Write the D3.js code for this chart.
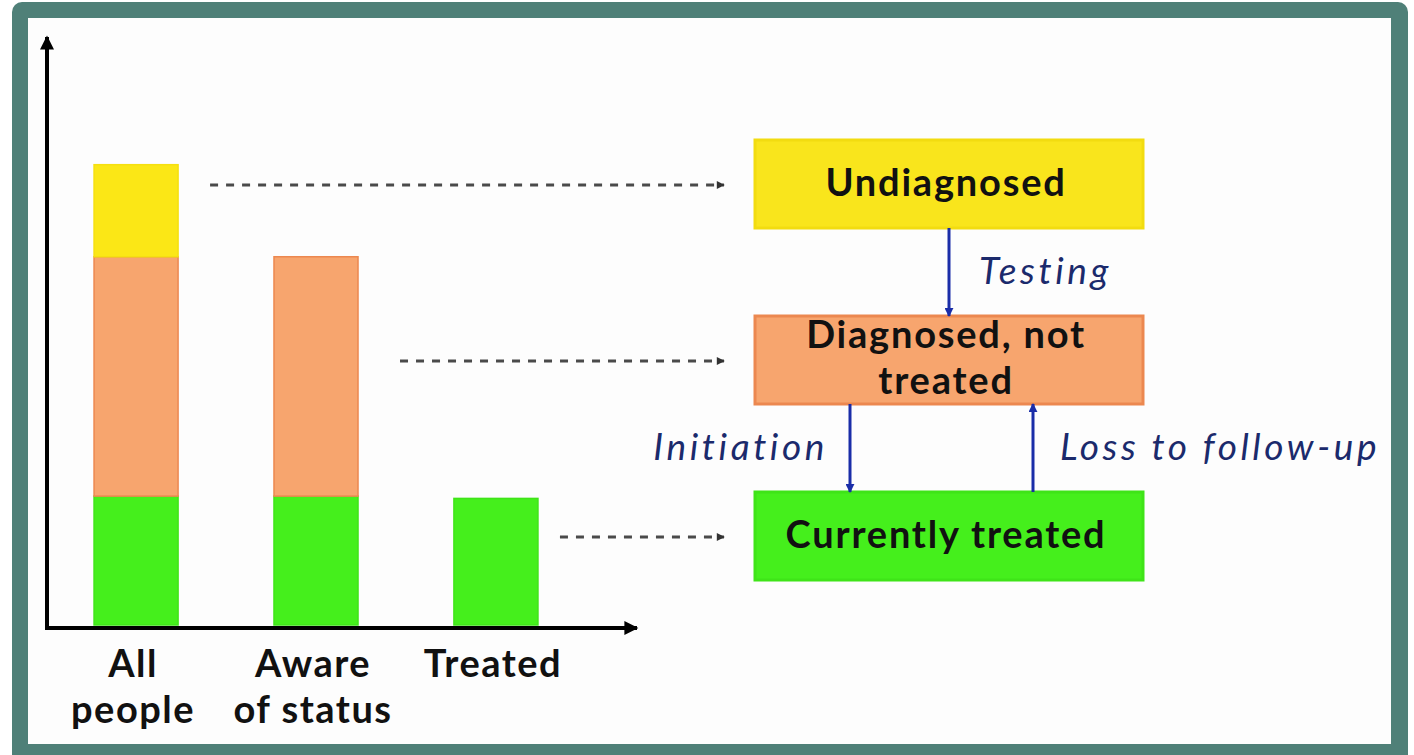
<!DOCTYPE html>
<html lang="en">
<head>
<meta charset="utf-8">
<title>Care cascade</title>
<style>
  body { margin: 0; background: #fff; }
  svg { display: block; }
  text { font-family: Lato, "Open Sans", sans-serif; }
</style>
<script src="https://cdnjs.cloudflare.com/ajax/libs/d3/7.8.5/d3.min.js"></script>
</head>
<body>
<div id="chart"></div>
<script>
// bar data (percent of all people)
var categories = ["All people", "Aware of status", "Treated"];
var catLines = [["All", "people"], ["Aware", "of status"], ["Treated"]];
var treatedVals = [28, 28, 27.5];
var diagnosedVals = [52, 52, 0];
var undiagnosedVals = [20, 0, 0];

// flow chart stages
var stages = ["Undiagnosed", "Diagnosed, not treated", "Currently treated"];
var stageLines = [["Undiagnosed"], ["Diagnosed, not", "treated"], ["Currently treated"]];
var stageColors = ["#f9e51c", "#f7a56e", "#45ef1c"];
var stageStroke = ["#f2dc10", "#ec8850", "#3fe418"];
var stageSource = [0, 1, 2]; // which bar the dashed arrow leaves from

var W = 1414, H = 755;

var svg = d3.select("#chart").append("svg")
    .attr("width", W)
    .attr("height", H);

// frame
svg.append("rect").attr("x", 12).attr("y", 2).attr("width", 1396).attr("height", H + 10)
    .attr("rx", 10).attr("fill", "#4f8078");
svg.append("rect").attr("x", 28).attr("y", 18).attr("width", 1363).attr("height", 726)
    .attr("fill", "#fdfdfd");

var defs = svg.append("defs");
function marker(id, color, w, h) {
    defs.append("marker").attr("id", id)
        .attr("viewBox", "0 0 10 10").attr("refX", 9).attr("refY", 5)
        .attr("markerWidth", w).attr("markerHeight", h)
        .attr("markerUnits", "userSpaceOnUse")
        .attr("orient", "auto")
        .append("path").attr("d", "M0,0 L10,5 L0,10 Z").attr("fill", color);
}
marker("blackArrow", "#000", 16, 14);
marker("grayArrow", "#333", 9, 8);
marker("blueArrow", "#1a2da8", 9, 9);

// scales
var x = d3.scaleBand().domain(categories).range([46, 586])
    .paddingInner(0.533).paddingOuter(0.267);
var y = d3.scaleLinear().domain([0, 126]).range([625, 45]);

var stacked = categories.map(function (c, i) {
    return [
        {cat: c, y0: 0, y1: treatedVals[i], color: stageColors[2], stroke: stageStroke[2]},
        {cat: c, y0: treatedVals[i], y1: treatedVals[i] + diagnosedVals[i], color: stageColors[1], stroke: stageStroke[1]},
        {cat: c, y0: treatedVals[i] + diagnosedVals[i], y1: treatedVals[i] + diagnosedVals[i] + undiagnosedVals[i], color: "#fbe716", stroke: "#f5e010"}
    ].filter(function (d) { return d.y1 > d.y0; });
});

var bars = svg.append("g");
bars.selectAll("g").data(stacked).enter().append("g")
    .selectAll("rect").data(function (d) { return d; }).enter().append("rect")
    .attr("x", function (d) { return x(d.cat); })
    .attr("y", function (d) { return y(d.y1); })
    .attr("width", x.bandwidth())
    .attr("height", function (d) { return y(d.y0) - y(d.y1); })
    .attr("fill", function (d) { return d.color; })
    .attr("stroke", function (d) { return d.stroke; })
    .attr("stroke-width", 1.5);

// axes (arrows)
svg.append("line").attr("x1", 47).attr("y1", y(0) + 3).attr("x2", 47).attr("y2", 37)
    .attr("stroke", "#000").attr("stroke-width", 4).attr("marker-end", "url(#blackArrow)");
svg.append("line").attr("x1", 45).attr("y1", y(0) + 3).attr("x2", 637).attr("y2", y(0) + 3)
    .attr("stroke", "#000").attr("stroke-width", 4).attr("marker-end", "url(#blackArrow)");

// category labels
var labels = svg.append("g").selectAll("text").data(categories).enter().append("text")
    .attr("text-anchor", "middle")
    .attr("font-size", 38).attr("font-weight", 700).attr("fill", "#111")
    .attr("letter-spacing", 1.5)
    .attr("x", function (d) { return x(d) + x.bandwidth() / 2 - 3; })
    .attr("y", 677);
labels.selectAll("tspan").data(function (d, i) { return catLines[i]; }).enter().append("tspan")
    .attr("x", function () { return this.parentNode.getAttribute("x"); })
    .attr("dy", function (d, i) { return i === 0 ? 0 : 46; })
    .text(function (d) { return d; });

// flow boxes
var row = d3.scaleBand().domain(stages).range([140, 580]).paddingInner(0.5);
var boxX = 755, boxW = 388;
var cx = boxX + boxW / 2;

svg.append("g").selectAll("rect").data(stages).enter().append("rect")
    .attr("x", boxX).attr("y", function (d) { return row(d); })
    .attr("width", boxW).attr("height", row.bandwidth())
    .attr("fill", function (d, i) { return stageColors[i]; })
    .attr("stroke", function (d, i) { return stageStroke[i]; })
    .attr("stroke-width", 3);

var boxText = svg.append("g").selectAll("text").data(stages).enter().append("text")
    .attr("text-anchor", "middle")
    .attr("font-size", 38).attr("font-weight", 700).attr("fill", "#111")
    .attr("letter-spacing", 1.8);
boxText.each(function (d, i) {
    var lines = stageLines[i];
    var mid = row(d) + row.bandwidth() / 2;
    var base = lines.length === 1 ? mid + 12 : mid - 12;
    d3.select(this).selectAll("tspan").data(lines).enter().append("tspan")
        .attr("x", cx - 3)
        .attr("y", function (l, j) { return base + j * 46; })
        .text(function (l) { return l; });
});

// dashed pointers from bars to boxes
var dashGap = [32, 42, 22];
svg.append("g").selectAll("line").data(stages).enter().append("line")
    .attr("x1", function (d, i) { return x(categories[stageSource[i]]) + x.bandwidth() + dashGap[i]; })
    .attr("x2", 724)
    .attr("y1", function (d) { return row(d) + row.bandwidth() / 2 + 1; })
    .attr("y2", function (d) { return row(d) + row.bandwidth() / 2 + 1; })
    .attr("stroke", "#4a4a4a").attr("stroke-width", 3)
    .attr("stroke-dasharray", "8,8")
    .attr("marker-end", "url(#grayArrow)");

// transitions
var b0 = row(stages[0]) + row.bandwidth(), t1 = row(stages[1]),
    b1 = row(stages[1]) + row.bandwidth(), t2 = row(stages[2]);
var flows = [
    {label: "Testing", x: cx, from: b0, to: t1, lx: cx + 30, ly: (b0 + t1) / 2 + 12, anchor: "start"},
    {label: "Initiation", x: boxX + 95, from: b1, to: t2, lx: boxX + 73, ly: (b1 + t2) / 2 + 12, anchor: "end"},
    {label: "Loss to follow-up", x: boxX + 278, from: t2, to: b1, lx: boxX + 305, ly: (b1 + t2) / 2 + 12, anchor: "start"}
];
var fg = svg.append("g");
fg.selectAll("line").data(flows).enter().append("line")
    .attr("x1", function (d) { return d.x; }).attr("x2", function (d) { return d.x; })
    .attr("y1", function (d) { return d.from; })
    .attr("y2", function (d) { return d.to; })
    .attr("stroke", "#1a2da8").attr("stroke-width", 3)
    .attr("marker-end", "url(#blueArrow)");
fg.selectAll("text").data(flows).enter().append("text")
    .attr("x", function (d) { return d.lx; }).attr("y", function (d) { return d.ly; })
    .attr("text-anchor", function (d) { return d.anchor; })
    .attr("font-size", 37).attr("font-style", "italic").attr("fill", "#1b2a6c")
    .attr("letter-spacing", 3.6)
    .text(function (d) { return d.label; });
</script>
</body>
</html>
